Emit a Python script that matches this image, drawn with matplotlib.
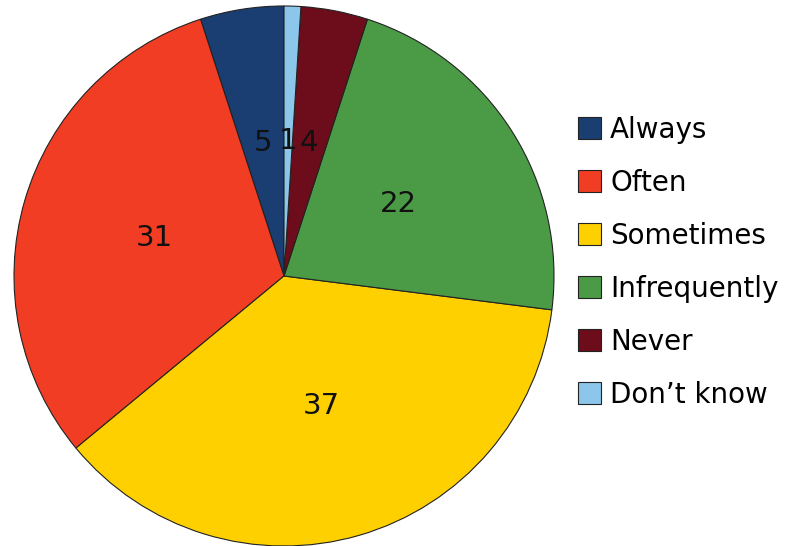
import matplotlib
matplotlib.use("Agg")
import matplotlib.pyplot as plt

categories = ["Always", "Often", "Sometimes", "Infrequently", "Never", "Don\u2019t know"]
values = [5, 31, 37, 22, 4, 1]
colors = ["#1a3e72", "#f13d24", "#ffd000", "#4b9b46", "#6d0c1a", "#8cc6ea"]

fig = plt.figure(figsize=(8.05, 5.46), dpi=100)
ax = fig.add_axes([14 / 805, 0 / 546, 540 / 805, 540 / 546])

total = sum(values)
wedges, texts, autotexts = ax.pie(
    values,
    colors=colors,
    startangle=90,
    counterclock=True,
    autopct=lambda p: f"{round(p * total / 100):d}",
    pctdistance=0.5,
    wedgeprops=dict(edgecolor="#222222", linewidth=0.8),
    textprops=dict(fontsize=21, color="#111111"),
)
ax.set_xlim(-1, 1)
ax.set_ylim(-1, 1)
ax.set_aspect("equal")
ax.axis("off")

ax.legend(
    wedges,
    categories,
    loc="center left",
    bbox_to_anchor=(578 / 805, 0.520),
    bbox_transform=fig.transFigure,
    frameon=False,
    fontsize=20,
    handlelength=0.83,
    handleheight=0.83,
    handletextpad=0.33,
    labelspacing=0.9,
    borderpad=0,
    borderaxespad=0,
)

fig.savefig("out.png", dpi=100)
